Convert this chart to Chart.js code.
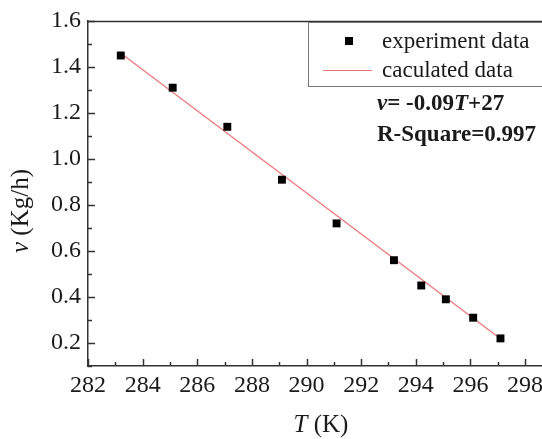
<!DOCTYPE html>
<html>
<head>
<meta charset="utf-8">
<script src="https://cdn.jsdelivr.net/npm/chart.js@4/dist/chart.umd.min.js"></script>
<style>
  html, body { margin: 0; padding: 0; background: #fff; overflow: hidden; }
  #wrap { width: 542px; height: 439px; position: relative; }
</style>
</head>
<body>
<div id="wrap"><canvas id="chart"></canvas></div>
<script>
// measured points
const tempK = [283.2, 285.1, 287.1, 289.1, 291.1, 293.2, 294.2, 295.1, 296.1, 297.1];
const rate = [1.45, 1.31, 1.14, 0.91, 0.72, 0.56, 0.45, 0.39, 0.31, 0.22];
// fitted line end points
const fitT = [283.2, 297.2];
const fitV = [1.46, 0.21];

const serif = "'Liberation Serif', 'Times New Roman', serif";
const ink = "#1a1a1a";
const axisCol = "#333";

Chart.defaults.font.family = serif;
Chart.defaults.color = ink;

// inward tick marks, long for labelled ticks
const tickMarks = {
  id: "tickMarks",
  afterDraw(chart) {
    const { ctx, chartArea: a } = chart;
    ctx.save();
    ctx.strokeStyle = axisCol;
    ctx.lineWidth = 1.5;
    const xs = chart.scales.x, ys = chart.scales.y;
    xs.ticks.forEach((t) => {
      const px = Math.round(xs.getPixelForValue(t.value)) + 0.5;
      const len = t.label !== "" ? 7 : 4;
      ctx.beginPath();
      ctx.moveTo(px, a.bottom);
      ctx.lineTo(px, a.bottom - len);
      ctx.stroke();
    });
    ys.ticks.forEach((t) => {
      const py = Math.round(ys.getPixelForValue(t.value)) + 0.5;
      const len = t.label !== "" ? 7 : 4;
      ctx.beginPath();
      ctx.moveTo(a.left, py);
      ctx.lineTo(a.left + len, py);
      ctx.stroke();
    });
    // top frame line
    ctx.beginPath();
    ctx.moveTo(a.left, a.top + 0.5);
    ctx.lineTo(chart.width, a.top + 0.5);
    ctx.stroke();
    ctx.restore();
  },
};

function drawParts(ctx, parts, x, y) {
  let w = 0;
  parts.forEach((p) => { ctx.font = p[1]; w += ctx.measureText(p[0]).width; });
  let cx = x - w / 2;
  parts.forEach((p) => {
    ctx.font = p[1];
    ctx.fillText(p[0], cx, y);
    cx += ctx.measureText(p[0]).width;
  });
}

const annotations = {
  id: "annotations",
  afterDraw(chart) {
    const ctx = chart.ctx;
    const ds = chart.data.datasets;
    ctx.save();
    ctx.textBaseline = "alphabetic";
    ctx.textAlign = "left";

    // legend box
    ctx.fillStyle = "#fff";
    ctx.fillRect(308, 22, 240, 64);
    ctx.strokeStyle = "#777";
    ctx.lineWidth = 1;
    ctx.strokeRect(308.5, 22.5, 240, 64);
    ctx.fillStyle = "#000";
    ctx.fillRect(345, 37, 8, 8);
    ctx.strokeStyle = ds[1].borderColor;
    ctx.lineWidth = 1.2;
    ctx.beginPath();
    ctx.moveTo(323, 70.5);
    ctx.lineTo(372, 70.5);
    ctx.stroke();
    ctx.fillStyle = ink;
    ctx.font = "23px " + serif;
    ctx.fillText(ds[0].label, 382, 47.5);
    ctx.fillText(ds[1].label, 382, 77);

    // fit equation
    const b = "bold 23px " + serif, bi = "italic bold 23px " + serif;
    const eq = [["v", bi], ["= -0.09", b], ["T", bi], ["+27", b]];
    let x = 377;
    eq.forEach((p) => { ctx.font = p[1]; ctx.fillText(p[0], x, 110); x += ctx.measureText(p[0]).width; });
    ctx.font = b;
    ctx.fillText("R-Square=0.997", 377, 140.5);

    // axis titles
    drawParts(ctx, [["T", "italic 25px " + serif], [" (K)", "25px " + serif]], 321, 432);
    ctx.translate(28, 211);
    ctx.rotate(-Math.PI / 2);
    drawParts(ctx, [["v", "italic 25px " + serif], [" (Kg/h)", "25px " + serif]], 0, 0);
    ctx.restore();
  },
};

new Chart(document.getElementById("chart"), {
  type: "scatter",
  data: {
    datasets: [
      {
        label: "experiment data",
        data: tempK.map((t, i) => ({ x: t, y: rate[i] })),
        pointStyle: "rect",
        pointRadius: 5.6,
        backgroundColor: "#000",
        borderColor: "#000",
        borderWidth: 0,
        order: 1,
      },
      {
        label: "caculated data",
        data: fitT.map((t, i) => ({ x: t, y: fitV[i] })),
        showLine: true,
        pointRadius: 0,
        borderColor: "#e8787c",
        borderWidth: 1.3,
        order: 2,
      },
    ],
  },
  options: {
    responsive: true,
    maintainAspectRatio: false,
    animation: false,
    layout: { autoPadding: false, padding: { top: 21, left: 0, right: 0, bottom: 0 } },
    plugins: { legend: { display: false }, tooltip: { enabled: false } },
    scales: {
      x: {
        type: "linear",
        min: 282,
        max: 298.62,
        afterFit: (s) => { s.height = 73; s.paddingLeft = 0; s.paddingRight = 0; },
        grid: { display: true, drawOnChartArea: false, drawTicks: false },
        border: { display: true, color: axisCol, width: 1.5 },
        ticks: {
          stepSize: 1,
          includeBounds: false,
          maxTicksLimit: 100,
          autoSkip: false,
          maxRotation: 0,
          padding: 5,
          color: ink,
          font: { size: 24 },
          callback: (v) => (Math.round(v) % 2 === 0 ? String(Math.round(v)) : ""),
        },
      },
      y: {
        min: 0.1,
        max: 1.6,
        afterFit: (s) => { s.width = 88; s.paddingTop = 0; s.paddingBottom = 0; },
        grid: { display: true, drawOnChartArea: false, drawTicks: false },
        border: { display: true, color: axisCol, width: 1.5 },
        ticks: {
          stepSize: 0.1,
          includeBounds: false,
          maxTicksLimit: 100,
          autoSkip: false,
          padding: 7,
          color: ink,
          font: { size: 24 },
          callback: (v) => (Math.round(v * 10) % 2 === 0 ? v.toFixed(1) : ""),
        },
      },
    },
  },
  plugins: [tickMarks, annotations],
});
</script>
</body>
</html>
